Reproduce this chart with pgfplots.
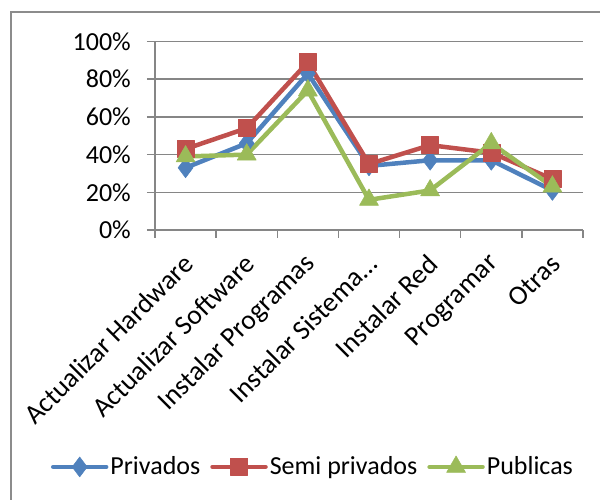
\documentclass[border=0pt]{standalone}
\usepackage{pgfplots}
\pgfplotsset{compat=1.18}
\usepackage{fontspec}
\setmainfont{Carlito}
\definecolor{privblue}{HTML}{4F81BD}
\definecolor{semired}{HTML}{C0504D}
\definecolor{pubgreen}{HTML}{9BBB59}
\definecolor{gridgray}{HTML}{868686}
\definecolor{framegray}{HTML}{8C8C8C}
\newcommand{\chartfont}{\fontsize{26pt}{31pt}\selectfont}
\newcommand{\catfont}{\fontsize{27.5pt}{33pt}\selectfont}

\begin{document}
\chartfont
\begin{tikzpicture}[x=1pt,y=1pt]
\useasboundingbox (0,0) rectangle (600,500);
% chart area border
\draw[framegray, line width=1.5pt] (11,-20) -- (11,488) -- (620,488);
\begin{axis}[
  at={(155pt,270pt)}, anchor=south west,
  scale only axis, width=428pt, height=188.5pt,
  xmin=0.5, xmax=7.5, ymin=0, ymax=100,
  axis x line*=bottom, axis y line*=left,
  axis line style={gridgray, line width=1.5pt, -},
  tick align=outside,
  major tick length=8pt, minor tick length=8pt,
  tick style={gridgray, line width=1.5pt},
  xtick={1,2,3,4,5,6,7},
  x tick style={draw=none},
  minor xtick={0.5,1.5,2.5,3.5,4.5,5.5,6.5,7.5},
  minor x tick style={draw=gridgray, line width=1.5pt},
  xticklabels={Actualizar Hardware, Actualizar Software, Instalar Programas, Instalar Sistema…, Instalar Red, Programar, Otras},
  xticklabel style={font=\catfont, xshift=4.5pt, yshift=-20pt, rotate=45, anchor=east, inner sep=2pt},
  ytick={0,20,40,60,80,100},
  yticklabels={0\%,20\%,40\%,60\%,80\%,100\%},
  yticklabel style={font=\chartfont, inner sep=2pt, xshift=-14pt},
  ymajorgrids,
  grid style={gridgray, line width=1.5pt},
  clip=false,
  legend columns=3,
  legend style={at={(0.369,-1.257)}, anchor=center, draw=none, fill=none,
    font=\chartfont, nodes={inner sep=2pt},
    /tikz/every even column/.append style={column sep=8pt}},
  legend image code/.code={
    \draw[mark repeat=2, mark phase=2] plot coordinates {(0pt,0pt) (26.5pt,0pt) (53pt,0pt)};
  },
  every axis plot/.append style={line width=4.5pt, line join=round, line cap=round},
]
\addplot[privblue, mark=diamond*, mark size=10pt,
  mark options={fill=privblue, draw=privblue, line width=0.5pt}]
  coordinates {(1,33) (2,46) (3,83) (4,34) (5,37) (6,37) (7,21)};
\addlegendentry{Privados}
\addplot[semired, mark=square*, mark size=8.5pt,
  mark options={fill=semired, draw=semired, line width=0.5pt}]
  coordinates {(1,43) (2,54) (3,89) (4,35) (5,45) (6,41) (7,27)};
\addlegendentry{Semi privados}
\addplot[pubgreen, mark=triangle*, mark size=11pt,
  mark options={fill=pubgreen, draw=pubgreen, line width=0.5pt}]
  coordinates {(1,39) (2,40) (3,74) (4,16) (5,21) (6,46) (7,23)};
\addlegendentry{Publicas}
\end{axis}
\end{tikzpicture}
\end{document}
